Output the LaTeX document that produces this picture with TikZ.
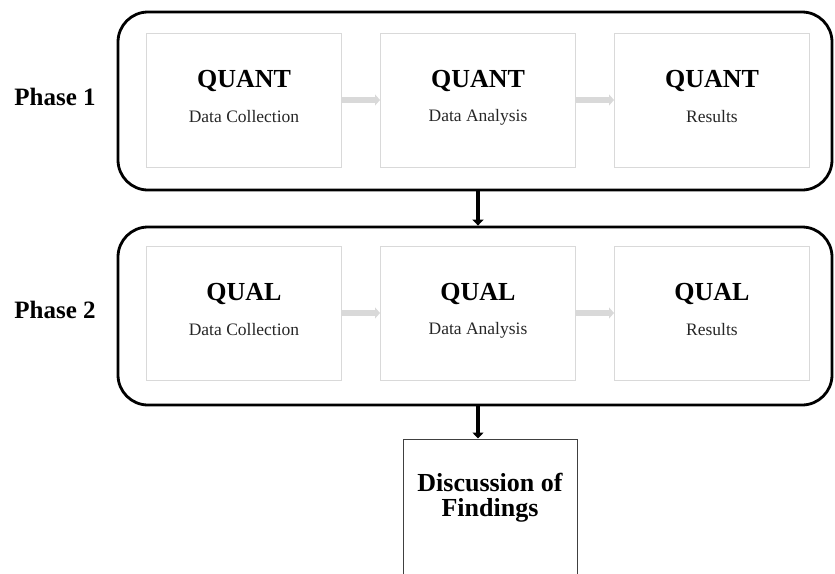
\documentclass[tikz,border=0pt]{standalone}
\usepackage{fontspec}
\setmainfont{Liberation Serif}
\usetikzlibrary{arrows.meta,calc}
\begin{document}
\begin{tikzpicture}[x=1pt,y=-1pt,
  phasebox/.style={draw=black,line width=2.8pt,rounded corners=30pt,minimum width=714pt,minimum height=178pt,inner sep=0pt},
  stagebox/.style={draw=black!15,line width=1pt,minimum width=195pt,minimum height=134pt,inner sep=0pt},
  titletext/.style={font=\fontsize{26}{28}\selectfont\bfseries,inner sep=0pt},
  subtext/.style={font=\fontsize{17.5}{20}\selectfont,inner sep=0pt,text=black!85},
  phaselabel/.style={font=\fontsize{25}{28}\selectfont\bfseries,inner sep=0pt},
  grayarrow/.style={draw=black!15,line width=6pt,-{Triangle[length=5pt,width=11pt]}},
  blackarrow/.style={draw=black,line width=4.5pt,-{Triangle[length=6pt,width=11pt]}},
  findbox/.style={draw=black!75,line width=1pt,minimum width=174pt,minimum height=200pt,inner sep=0pt}
]
\useasboundingbox (0,0) rectangle (835,573);
\clip (0,0) rectangle (835,573);

% phases
\node[phasebox] (p1) at (475,101) {};
\node[phasebox] (p2) at (475,316) {};
\node[phaselabel] (l1) at (55,97) {Phase 1};
\node[phaselabel] (l2) at (55,310) {Phase 2};

% phase 1 stages
\node[stagebox] (b11) at (244,100) {};
\node[stagebox] (b12) at (478,100) {};
\node[stagebox] (b13) at (712,100) {};
\node[titletext] (t11) at ($(b11.center)+(0,-19)$) {QUANT};
\node[subtext]   (s11) at ($(b11.center)+(0,17)$) {Data Collection};
\node[titletext] (t12) at ($(b12.center)+(0,-19)$) {QUANT};
\node[subtext]   (s12) at ($(b12.center)+(0,17)$) {Data Analysis};
\node[titletext] (t13) at ($(b13.center)+(0,-19)$) {QUANT};
\node[subtext]   (s13) at ($(b13.center)+(0,17)$) {Results};

% phase 2 stages
\node[stagebox] (b21) at (244,313) {};
\node[stagebox] (b22) at (478,313) {};
\node[stagebox] (b23) at (712,313) {};
\node[titletext] (t21) at ($(b21.center)+(0,-19)$) {QUAL};
\node[subtext]   (s21) at ($(b21.center)+(0,17)$) {Data Collection};
\node[titletext] (t22) at ($(b22.center)+(0,-19)$) {QUAL};
\node[subtext]   (s22) at ($(b22.center)+(0,17)$) {Data Analysis};
\node[titletext] (t23) at ($(b23.center)+(0,-19)$) {QUAL};
\node[subtext]   (s23) at ($(b23.center)+(0,17)$) {Results};

% gray arrows
\draw[grayarrow] (b11.east) -- (b12.west);
\draw[grayarrow] (b12.east) -- (b13.west);
\draw[grayarrow] (b21.east) -- (b22.west);
\draw[grayarrow] (b22.east) -- (b23.west);

% findings
\node[findbox] (f) at (490,539) {};
\node[titletext] (f1) at (490,482) {Discussion of};
\node[titletext] (f2) at (490,510) {Findings};

% black arrows
\draw[blackarrow] ([xshift=3pt]p1.south) -- ([xshift=3pt]p2.north);
\draw[blackarrow] ([xshift=3pt]p2.south) -- ([xshift=3pt]p2.south |- f.north);
\end{tikzpicture}
\end{document}
